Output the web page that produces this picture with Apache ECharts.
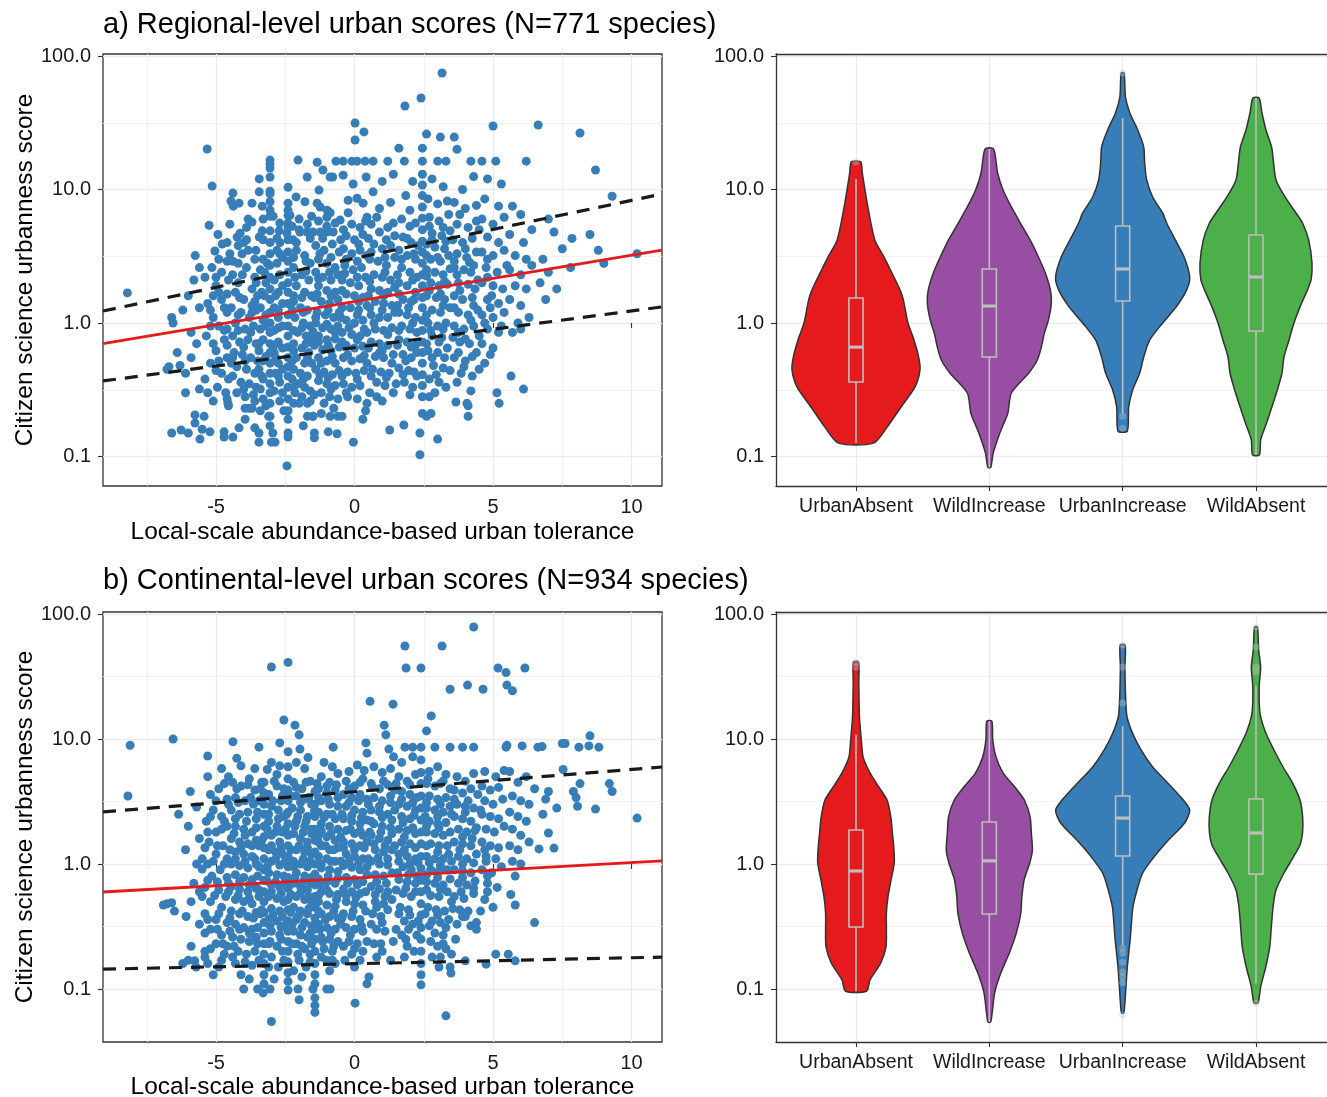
<!DOCTYPE html>
<html><head><meta charset="utf-8">
<script src="https://cdn.jsdelivr.net/npm/echarts@6/dist/echarts.min.js"></script>
<style>html,body{margin:0;padding:0;background:#fff}#c{width:1327px;height:1097px}</style>
</head><body><div id="c"></div>
<script>
// ---------- categories, ticks ----------
const categories = ['UrbanAbsent', 'WildIncrease', 'UrbanIncrease', 'WildAbsent'];
const groupColors = ['#E41A1C', '#984EA3', '#377EB8', '#4DAF4A'];
const yTickValues = [0.1, 1, 10, 100];
const yTickLabels = ['0.1', '1.0', '10.0', '100.0'];
const yMinorValues = [0.3162, 3.162, 31.62];
const xTickValues = [-5, 0, 5, 10];
const xMinorValues = [-7.5, -2.5, 2.5, 7.5];
const titleA = 'a) Regional-level urban scores (N=771 species)';
const titleB = 'b) Continental-level urban scores (N=934 species)';
const xTitle = 'Local-scale abundance-based urban tolerance';
const yTitle = 'Citizen science urbanness score';

// ---------- scatter a: [tolerance, score] flattened pairs ----------
const scatterA = [
-8.2,1.68, -6.77,0.45, -6.6,1.1, -6.55,1.0, -6.7,0.47, -6.6,0.15,
-6.26,0.158, -6.0,0.15, -5.76,0.205, -5.76,0.178, -5.58,0.135, -5.5,0.16, -6.3,0.48, -6.1,0.42, -5.9,0.55, -6.2,1.25, -6.0,1.6, -5.8,2.1, -5.6,2.6, -5.9,0.85, -5.7,0.7, -6.4,0.6, -5.6,1.3, -5.75,3.2, -5.6,0.32, -6.1,0.3,
-5.43,0.2, -5.22,0.153, -4.71,0.153, -4.71,0.14, -5.32,20.1, -5.14,10.6, -5.25,5.4, -4.93,4.6, -5.04,3.46, -4.78,3.9, -5.15,2.6, -5.4,2.2, -5.0,1.9, -4.8,1.5, -5.3,1.4, -5.1,1.1, -4.6,1.2, -4.9,0.95, -5.35,0.8, -4.7,0.75, -5.0,0.62, -4.6,0.55, -5.2,0.5, -4.8,0.42, -5.4,0.38, -4.95,0.33, -4.65,0.3, -5.1,0.26, -4.55,0.24, -5.3,0.3, -4.8,2.4, -4.6,2.9, -4.9,1.7, -4.6,0.9,
-4.39,9.4, -4.46,8.2, -4.17,7.9, -4.38,7.5, -4.24,4.4, -4.13,4.7, -4.39,2.9, -4.06,3.3, -3.84,3.5, -3.56,3.5, -3.7,7.9, -3.44,12.0, -3.44,9.6, -3.84,6.0, -3.7,5.7, -3.44,4.4, -4.57,0.25, -4.39,0.14, -4.17,0.164, -3.95,0.23, -3.8,0.23, -3.7,0.23, -3.95,0.19, -3.6,0.164, -3.45,0.15, -3.45,0.128, -4.4,2.3, -4.2,2.0, -3.9,2.6, -3.6,2.2, -4.3,1.7, -4.0,1.5, -3.7,1.8, -3.5,1.6, -4.45,1.3, -4.1,1.2, -3.8,1.1, -3.55,1.25, -4.3,1.0, -3.95,0.9, -3.65,0.95, -4.4,0.8, -4.15,0.72, -3.85,0.75, -3.55,0.7, -4.35,0.6, -4.05,0.58, -3.75,0.55, -3.5,0.52, -4.25,0.47, -3.9,0.45, -3.6,0.42, -4.4,0.4, -4.1,0.36, -3.8,0.35, -3.55,0.33, -4.25,0.3, -3.95,0.28, -3.65,0.29, -4.45,0.5, -3.7,1.35, -4.2,3.8, -3.9,4.2,
-3.05,16.6, -3.05,15.5, -3.05,14.5, -3.05,12.4, -3.05,9.7, -3.05,9.3, -3.05,8.1, -3.05,7.0, -3.05,6.3, -3.05,4.9, -3.05,4.0, -3.05,3.3, -3.05,2.7, -3.05,2.2, -3.05,1.8, -3.05,1.5, -3.05,1.2, -3.05,1.0, -3.05,0.85, -3.05,0.7, -3.05,0.6, -3.05,0.5, -3.05,0.42, -3.05,0.35, -3.05,0.3, -3.05,0.25, -3.05,0.2, -3.05,0.17,
-3.33,7.5, -3.33,4.9, -2.94,6.3, -2.72,4.9, -2.69,4.0, -3.2,0.24, -3.1,0.2, -2.95,0.15, -3.0,0.128, -2.87,0.128, -3.3,3.0, -3.4,2.5, -3.2,2.0, -2.8,2.8, -2.7,2.3, -2.6,1.9, -3.35,1.7, -2.85,1.6, -3.4,1.3, -2.9,1.3, -2.6,1.4, -3.3,1.05, -2.75,1.1, -3.4,0.9, -2.9,0.88, -2.6,0.95, -3.3,0.75, -2.75,0.72, -3.45,0.62, -2.9,0.6, -2.6,0.65, -3.3,0.52, -2.75,0.5, -3.45,0.45, -2.85,0.42, -2.6,0.45, -3.3,0.38, -2.7,0.36, -3.4,0.32, -2.9,0.31, -2.6,0.3, -3.3,0.27, -2.7,0.26, -2.55,0.22, -3.4,0.22, -2.8,3.5, -2.6,3.1,
-2.4,10.4, -2.4,7.9, -2.4,7.0, -2.4,6.4, -2.4,5.6, -2.4,5.2, -2.4,4.2, -2.4,3.4, -2.4,2.9, -2.4,2.4, -2.4,2.0, -2.4,1.7, -2.4,1.4, -2.4,1.15, -2.4,0.95, -2.4,0.8, -2.4,0.66, -2.4,0.55, -2.4,0.47, -2.4,0.4, -2.4,0.33, -2.4,0.27, -2.4,0.22, -2.4,0.19, -2.4,0.15, -2.4,0.14, -2.44,0.085,
-2.33,6.4, -2.44,4.7, -2.22,4.2, -2.04,16.6, -2.11,8.8, -1.79,8.1, -1.71,12.4, -1.97,4.8, -1.71,4.8, -1.5,4.8, -2.2,0.25, -2.0,0.25, -1.7,0.25, -1.85,0.17, -1.7,0.2, -1.5,0.2, -2.1,3.5, -1.8,3.2, -1.6,2.8, -2.2,2.6, -1.9,2.3, -1.65,2.1, -2.1,1.9, -1.8,1.7, -1.55,1.6, -2.2,1.45, -1.95,1.3, -1.7,1.25, -2.15,1.1, -1.85,1.0, -1.6,0.95, -2.05,0.85, -1.75,0.8, -1.55,0.75, -2.2,0.7, -1.9,0.65, -1.65,0.6, -2.1,0.55, -1.8,0.5, -1.55,0.5, -2.2,0.45, -1.95,0.42, -1.7,0.4, -2.05,0.35, -1.8,0.33, -1.6,0.31, -2.15,0.3, -1.9,0.28, -1.6,0.26, -2.0,6.0, -1.7,5.5, -2.25,5.3,
-1.35,16.0, -1.14,14.0, -1.28,9.9, -1.35,7.9, -1.24,7.4, -0.99,7.0, -0.88,12.4, -0.79,12.4, -0.67,16.3, -1.24,4.8, -0.99,4.8, -0.77,4.8, -1.5,0.2, -1.2,0.21, -1.45,0.15, -1.45,0.138, -0.95,0.153, -0.63,0.148, -0.88,0.2, -0.6,0.2, -1.4,3.8, -1.1,3.5, -0.8,3.9, -0.55,3.4, -1.3,3.0, -1.0,2.8, -0.7,2.6, -1.4,2.4, -1.15,2.2, -0.85,2.1, -0.6,2.3, -1.3,1.9, -1.0,1.75, -0.7,1.7, -1.45,1.55, -1.2,1.45, -0.9,1.4, -0.6,1.5, -1.35,1.2, -1.05,1.15, -0.75,1.1, -0.55,1.2, -1.4,1.0, -1.15,0.92, -0.85,0.9, -0.6,0.95, -1.3,0.8, -1.0,0.75, -0.7,0.76, -1.45,0.68, -1.15,0.63, -0.85,0.62, -0.55,0.66, -1.3,0.55, -1.0,0.52, -0.7,0.5, -1.4,0.45, -1.1,0.43, -0.8,0.41, -0.55,0.44, -1.3,0.37, -1.0,0.35, -0.7,0.34, -1.2,0.3, -0.9,0.28, -0.6,0.27, -1.1,0.25, -0.75,0.23, -1.3,5.8, -1.0,6.2, -0.7,5.6, -0.88,6.7,
-0.41,16.3, -0.09,16.3, 0.09,16.3, 0.38,16.3, -0.41,12.8, 0.02,31.5, 0.02,23.5, 0.34,27, 0.42,12.4, -0.52,5.9, -0.23,6.7, -0.23,8.3, 0.09,8.6, 0.31,7.9, 0.45,6.2, -0.45,0.2, 0.3,0.19, 0.4,0.22, 0.45,0.25, -0.04,0.128, -0.3,4.5, 0.0,4.2, 0.3,4.6, -0.4,3.6, -0.1,3.3, 0.2,3.5, 0.45,3.2, -0.35,2.7, -0.05,2.5, 0.25,2.6, -0.45,2.1, -0.15,2.0, 0.15,1.9, 0.4,2.2, -0.3,1.65, 0.0,1.6, 0.3,1.55, -0.45,1.3, -0.15,1.3, 0.15,1.25, 0.45,1.35, -0.3,1.05, 0.0,1.0, 0.3,1.05, -0.45,0.85, -0.1,0.82, 0.2,0.8, 0.45,0.85, -0.3,0.68, 0.0,0.65, 0.3,0.67, -0.4,0.55, -0.1,0.52, 0.2,0.54, 0.45,0.5, -0.25,0.43, 0.05,0.42, 0.35,0.44, -0.4,0.35, -0.1,0.33, 0.2,0.34, -0.25,0.28, 0.1,0.27, -0.1,5.5, 0.2,5.2, -0.05,11.0,
0.67,16.3, 1.2,16.3, 0.67,9.6, 0.6,5.5, 0.9,4.8, 1.2,5.2, 1.45,4.5, 0.7,3.9, 1.0,3.6, 1.3,3.8, 0.55,3.0, 0.85,2.9, 1.15,2.7, 1.45,3.1, 0.7,2.3, 1.0,2.2, 1.3,2.1, 0.6,1.8, 0.9,1.75, 1.2,1.7, 1.45,1.85, 0.75,1.45, 1.05,1.4, 1.35,1.35, 0.6,1.15, 0.9,1.1, 1.2,1.1, 1.45,1.2, 0.75,0.9, 1.05,0.88, 1.35,0.92, 0.6,0.72, 0.9,0.7, 1.2,0.68, 0.75,0.56, 1.05,0.55, 1.4,0.58, 0.65,0.45, 0.95,0.43, 1.25,0.42, 0.8,0.36, 1.1,0.34, 1.27,0.158, 0.8,0.28, 1.4,0.3, 0.9,7.2, 1.3,8.0, 1.0,11.5, 1.4,13.0,
2.45,20.4, 2.45,16.3, 2.45,13.0, 2.45,10.8, 2.45,9.0, 2.45,7.4, 2.45,6.1, 2.45,5.0, 2.45,4.1, 2.45,3.4, 2.45,2.8, 2.45,2.3, 2.45,1.9, 2.45,1.55, 2.45,1.3, 2.45,1.05, 2.45,0.88, 2.45,0.72, 2.45,0.6, 2.45,0.5, 2.45,0.41, 2.45,0.34, 2.45,0.28, 2.45,0.21, 2.36,0.15, 2.36,0.103,
1.82,42.2, 2.4,48.5, 1.8,16.3, 1.78,0.172, 1.6,20.4, 1.75,4.4, 2.05,4.0, 1.6,3.5, 1.9,3.2, 2.2,3.0, 1.7,2.6, 2.0,2.4, 2.25,2.2, 1.6,2.0, 1.9,1.9, 2.2,1.7, 1.75,1.5, 2.05,1.45, 1.6,1.2, 1.9,1.15, 2.2,1.1, 1.7,0.95, 2.0,0.9, 2.25,0.85, 1.6,0.75, 1.9,0.72, 2.2,0.68, 1.75,0.58, 2.05,0.55, 1.6,0.46, 1.95,0.44, 2.25,0.4, 1.8,0.36, 2.1,0.33, 1.7,6.0, 2.0,7.0, 2.2,5.6, 1.85,9.0, 2.1,11.5,
3.16,74.6, 2.6,26.0, 3.1,24.7, 2.6,0.2, 2.76,0.21, 3.0,0.135, 3.0,16.3, 3.3,16.3, 2.8,12.0, 3.2,10.5, 2.65,8.5, 3.0,7.8, 3.35,8.2, 2.7,6.2, 3.05,5.8, 3.4,6.5, 2.8,4.7, 3.15,4.5, 3.45,4.9, 2.6,3.9, 2.9,3.7, 3.25,3.6, 2.75,3.0, 3.1,2.9, 3.4,3.2, 2.6,2.5, 2.9,2.4, 3.2,2.3, 3.45,2.55, 2.75,2.0, 3.05,1.9, 3.35,1.95, 2.6,1.6, 2.95,1.55, 3.25,1.5, 2.8,1.25, 3.1,1.2, 3.45,1.3, 2.65,1.0, 3.0,0.95, 3.3,1.0, 2.8,0.8, 3.15,0.78, 2.65,0.62, 3.0,0.6, 3.35,0.65, 2.85,0.48, 3.2,0.46, 2.7,0.38, 3.05,0.36, 2.9,0.3,
3.6,24.7, 3.66,0.256, 4.1,0.24, 4.1,0.2, 4.06,0.25, 4.2,16.3, 3.7,20.0, 4.3,12.5, 3.9,10.0, 3.6,8.0, 4.0,7.2, 4.4,7.6, 3.7,5.5, 4.1,5.2, 4.4,5.8, 3.55,4.2, 3.9,4.0, 4.25,4.3, 3.7,3.3, 4.05,3.1, 4.4,3.4, 3.6,2.6, 3.95,2.5, 4.3,2.7, 3.75,2.0, 4.1,1.95, 4.45,2.1, 3.6,1.6, 3.9,1.5, 4.25,1.55, 3.75,1.2, 4.1,1.15, 4.45,1.25, 3.6,0.95, 3.95,0.9, 4.3,0.95, 3.8,0.72, 4.15,0.7, 3.6,0.55, 4.0,0.52, 4.4,0.6, 3.85,0.42, 4.25,0.4,
5.0,29.9, 5.14,0.3, 5.22,0.25, 4.6,16.3, 5.1,16.3, 4.8,12.0, 5.3,11.0, 4.7,8.5, 5.2,7.5, 4.6,6.0, 5.0,5.5, 5.4,6.2, 4.8,4.4, 5.2,4.0, 4.6,3.4, 5.0,3.2, 5.4,3.5, 4.75,2.6, 5.15,2.4, 5.5,2.7, 4.6,2.0, 5.0,1.9, 5.35,1.8, 4.8,1.5, 5.2,1.4, 4.6,1.15, 5.0,1.1, 5.4,1.2, 4.8,0.9, 5.2,0.85, 4.6,0.7, 5.0,0.65, 4.7,0.5, 5.3,0.95,
5.65,0.4, 6.2,16.3, 5.7,7.5, 6.0,6.5, 5.6,4.6, 6.1,4.0, 6.4,5.0, 5.8,3.2, 6.2,3.0, 5.6,2.5, 6.0,2.3, 6.4,2.7, 5.8,1.9, 6.2,1.8, 5.6,1.5, 6.0,1.35, 5.9,1.0, 6.3,1.1, 5.7,0.85, 6.0,0.9, 6.1,0.32,
6.63,30.4, 8.14,26.5, 8.7,14.0, 9.3,8.9, 10.2,3.3, 7.85,4.3, 7.2,4.8, 7.5,3.6, 6.8,3.0, 7.0,2.4, 6.7,2.0, 8.5,4.6, 9.0,2.8, 7.8,2.6, 7.3,1.8, 6.9,1.5, 7.0,6.0, 8.8,3.5
];
// more of the dense core of panel a
const scatterA_core = [
-4.6,0.27, -4.0,0.32, -3.6,0.26, -2.2,0.33, -1.45,0.29, -0.85,0.32, -0.3,0.3, 0.55,0.3, 1.0,0.26, 1.5,0.35, 2.0,0.29, 2.7,0.28, 3.3,0.33, 3.7,0.36, 4.2,0.31,
-5.0,0.44, -4.55,0.38, -3.35,0.4, -2.75,0.4, -2.25,0.38, -1.85,0.38, -1.25,0.41, -0.95,0.39, -0.45,0.4, 0.1,0.38, 0.6,0.4, 1.15,0.39, 1.75,0.41, 2.15,0.43, 2.95,0.41, 3.45,0.44, 3.95,0.47, 4.5,0.45,
-4.9,0.52, -4.4,0.55, -3.95,0.52, -3.2,0.56, -2.85,0.55, -2.25,0.52, -1.7,0.55, -1.2,0.5, -0.8,0.56, -0.25,0.58, 0.35,0.57, 0.9,0.6, 1.35,0.5, 1.85,0.52, 2.25,0.6, 2.8,0.55, 3.25,0.55, 3.75,0.6, 4.25,0.56, 4.9,0.58,
-5.1,0.7, -4.6,0.68, -4.0,0.66, -3.45,0.7, -2.9,0.68, -2.2,0.62, -1.75,0.7, -1.3,0.72, -0.95,0.68, -0.45,0.72, 0.1,0.75, 0.5,0.65, 1.0,0.62, 1.55,0.68, 2.05,0.66, 2.6,0.7, 3.05,0.72, 3.55,0.78, 4.0,0.76, 4.5,0.8,
-5.2,0.95, -4.7,0.88, -4.2,0.88, -3.75,0.85, -3.2,0.95, -2.75,0.92, -2.2,0.88, -1.9,0.92, -1.5,0.86, -1.0,0.98, -0.7,0.85, -0.2,0.92, 0.35,0.9, 0.7,1.0, 1.2,0.82, 1.6,0.88, 2.1,1.0, 2.75,0.88, 3.2,0.9, 3.75,0.85, 4.2,1.05, 4.7,1.0,
-5.2,1.25, -4.7,1.3, -4.2,1.15, -3.7,1.2, -3.2,1.15, -2.75,1.25, -2.25,1.25, -1.85,1.2, -1.4,1.1, -0.95,1.25, -0.5,1.1, 0.1,1.15, 0.55,1.3, 1.0,1.25, 1.55,1.35, 1.95,1.3, 2.6,1.15, 3.2,1.35, 3.6,1.3, 4.3,1.35, 4.9,1.3,
-5.1,1.6, -4.6,1.65, -4.15,1.55, -3.6,1.45, -3.25,1.6, -2.75,1.7, -2.2,1.6, -1.9,1.55, -1.35,1.65, -0.85,1.6, -0.45,1.75, 0.15,1.45, 0.5,1.6, 1.05,1.6, 1.6,1.65, 2.15,1.5, 2.7,1.75, 3.1,1.65, 3.8,1.75, 4.35,1.8, 4.95,1.6,
-5.0,2.2, -4.55,2.1, -4.05,2.3, -3.55,2.0, -3.25,2.4, -2.9,2.1, -2.15,2.2, -1.75,2.45, -1.3,2.15, -0.9,2.4, -0.35,2.35, 0.1,2.2, 0.55,2.05, 1.1,2.4, 1.55,2.3, 2.1,2.1, 2.6,2.25, 3.25,2.05, 3.7,2.3, 4.2,2.4, 4.8,2.2,
-4.9,3.0, -4.5,3.3, -4.2,2.8, -3.6,3.0, -3.15,2.8, -2.7,3.3, -2.2,3.1, -1.75,2.9, -1.25,3.3, -0.85,3.1, -0.3,3.0, 0.1,2.9, 0.6,3.4, 1.1,3.1, 1.7,3.0, 2.15,3.3, 2.6,3.2, 3.0,3.1, 3.6,2.9, 4.15,2.85, 4.8,3.0,
-4.6,4.0, -4.0,4.0, -3.3,4.2, -2.8,4.3, -2.1,4.0, -1.6,4.3, -1.15,4.3, -0.5,4.2, 0.15,3.9, 0.5,4.3, 1.15,4.2, 1.9,4.3, 2.3,3.8, 2.8,4.2, 3.3,4.1, 4.0,3.6,
-4.5,5.5, -3.9,5.2, -3.3,6.0, -2.7,5.6, -2.0,5.0, -1.55,6.3, -1.0,5.3, -0.4,5.0, 0.4,5.8, 0.8,6.2, 1.4,5.6, 2.0,5.3, 2.7,5.3, 3.2,5.2, 3.8,6.5, 4.5,5.0
];

// ---------- scatter b ----------
const scatterB = [
-8.1,8.9, -8.18,3.5, -6.55,10.0, -6.77,0.48, -6.6,0.49, -6.5,0.42, -6.9,0.47,
-6.08,0.38, -5.7,1.0, -5.5,0.91, -6.35,2.5, -5.93,3.8, -5.7,2.86, -6.0,0.17, -5.77,0.168, -5.72,0.15, -5.9,0.22, -6.2,0.16, -5.6,0.6, -5.8,0.7, -6.1,1.3, -5.6,1.6, -5.9,0.5, -5.6,0.33, -6.0,2.0,
-5.3,7.3, -5.3,5.0, -5.4,0.2, -5.4,0.18, -5.2,3.6, -4.9,4.0, -4.6,3.3, -5.1,2.7, -4.8,2.4, -5.35,2.2, -4.6,2.0, -5.0,1.8, -5.25,1.5, -4.75,1.4, -5.0,1.2, -4.6,1.1, -5.3,1.0, -4.85,0.9, -5.15,0.8, -4.6,0.78, -5.4,0.65, -4.9,0.62, -4.65,0.55, -5.2,0.5, -4.8,0.45, -5.4,0.4, -5.0,0.36, -4.6,0.34, -5.2,0.3, -4.8,0.27, -5.0,0.23, -4.6,0.22, -5.3,0.16, -4.9,0.15, -4.7,0.19, -5.1,0.13, -4.55,5.0, -4.8,5.8,
-4.39,9.5, -4.25,7.0, -4.1,6.1, -4.0,0.1, -3.5,0.1, -4.4,4.5, -4.1,4.2, -3.8,4.8, -3.6,3.9, -4.3,3.4, -3.95,3.2, -3.65,3.0, -4.45,2.7, -4.15,2.5, -3.85,2.6, -3.55,2.3, -4.3,2.0, -4.0,1.9, -3.7,1.8, -4.45,1.6, -4.15,1.5, -3.85,1.45, -3.55,1.55, -4.3,1.25, -4.0,1.2, -3.7,1.15, -4.45,1.0, -4.15,0.97, -3.85,0.93, -3.55,1.0, -4.3,0.82, -4.0,0.78, -3.7,0.75, -4.45,0.66, -4.15,0.63, -3.85,0.6, -3.55,0.64, -4.3,0.52, -4.0,0.5, -3.7,0.48, -4.45,0.42, -4.15,0.4, -3.85,0.38, -3.55,0.41, -4.3,0.33, -4.0,0.31, -3.7,0.3, -4.4,0.26, -4.1,0.25, -3.8,0.24, -3.55,0.26, -4.2,0.2, -3.9,0.19, -3.6,0.2, -4.3,0.16, -3.7,0.155, -4.1,0.13, -3.8,0.12, -3.6,5.8,
-3.45,8.6, -2.7,9.3, -3.15,5.7, -2.7,6.1, -3.0,37.7, -3.3,0.093, -3.05,0.1, -3.0,0.055,
-3.27,4.5, -3.27,3.7, -3.27,3.0, -3.27,2.5, -3.27,2.0, -3.27,1.65, -3.27,1.35, -3.27,1.1, -3.27,0.9, -3.27,0.74, -3.27,0.6, -3.27,0.5, -3.27,0.41, -3.27,0.34, -3.27,0.28, -3.27,0.23, -3.27,0.19, -3.27,0.16, -3.27,0.13, -3.27,0.11,
-3.4,4.0, -3.1,3.6, -2.8,4.2, -2.6,3.5, -3.45,3.2, -3.0,2.9, -2.75,2.7, -2.55,2.4, -3.1,2.2, -2.8,2.0, -2.6,1.8, -3.0,1.7, -2.7,1.5, -3.45,1.4, -3.1,1.3, -2.85,1.25, -2.6,1.2, -3.0,1.05, -2.7,0.98, -3.45,0.95, -3.1,0.85, -2.8,0.82, -2.55,0.8, -3.0,0.68, -2.7,0.65, -3.45,0.62, -3.1,0.55, -2.8,0.53, -2.55,0.5, -3.0,0.44, -2.7,0.42, -3.4,0.4, -3.1,0.36, -2.8,0.35, -2.55,0.32, -3.0,0.29, -2.7,0.27, -3.1,0.23, -2.8,0.22, -2.6,0.2, -3.0,0.18, -2.75,0.15, -2.9,0.12, -3.0,6.5, -2.8,5.2,
-2.4,41.0, -2.55,14.2, -2.15,12.9, -2.0,10.8, -2.4,7.9, -1.97,8.3, -1.68,7.1, -2.4,0.098, -2.0,0.082, -2.04,0.1, -1.5,0.1,
-2.4,6.0, -2.4,4.8, -2.4,3.9, -2.4,3.2, -2.4,2.6, -2.4,2.1, -2.4,1.7, -2.4,1.4, -2.4,1.15, -2.4,0.95, -2.4,0.78, -2.4,0.64, -2.4,0.52, -2.4,0.43, -2.4,0.35, -2.4,0.29, -2.4,0.24, -2.4,0.2, -2.4,0.165, -2.4,0.135, -2.4,0.115,
-2.2,4.5, -1.9,4.0, -1.6,4.6, -2.1,3.5, -1.8,3.3, -1.55,3.0, -2.25,2.8, -1.95,2.7, -1.7,2.4, -2.1,2.2, -1.8,2.0, -1.55,1.9, -2.2,1.75, -1.95,1.6, -1.7,1.5, -2.1,1.3, -1.8,1.25, -1.55,1.2, -2.2,1.05, -1.95,1.0, -1.7,0.95, -2.1,0.85, -1.8,0.8, -1.55,0.78, -2.2,0.7, -1.95,0.66, -1.7,0.62, -2.1,0.55, -1.8,0.52, -1.55,0.5, -2.2,0.45, -1.95,0.42, -1.7,0.4, -2.1,0.36, -1.8,0.34, -1.55,0.32, -2.2,0.29, -1.95,0.27, -1.7,0.26, -2.1,0.23, -1.8,0.21, -1.6,0.19, -2.0,0.17, -1.75,0.15, -2.2,0.14, -1.9,0.125, -1.8,5.8, -2.1,6.5,
-0.77,8.6, -1.0,0.1, -0.88,0.1,
-1.43,0.065, -1.43,0.074, -1.43,0.085, -1.43,0.11, -1.43,0.13, -1.43,0.16, -1.43,0.2, -1.43,0.25, -1.43,0.3, -1.43,0.37, -1.43,0.45, -1.43,0.55, -1.43,0.68, -1.43,0.83, -1.43,1.0, -1.43,1.25, -1.43,1.55, -1.43,1.9, -1.43,2.4, -1.43,3.0, -1.43,3.8,
-1.2,5.0, -0.9,4.5, -0.6,5.3, -1.3,4.0, -1.0,3.7, -0.7,3.9, -1.2,3.2, -0.9,3.0, -0.6,2.9, -1.3,2.6, -1.0,2.5, -0.7,2.3, -1.2,2.1, -0.9,2.0, -0.6,1.9, -1.3,1.7, -1.0,1.65, -0.7,1.55, -1.2,1.4, -0.9,1.3, -0.6,1.35, -1.3,1.15, -1.0,1.1, -0.7,1.05, -1.2,0.93, -0.9,0.9, -0.6,0.87, -1.3,0.76, -1.0,0.72, -0.7,0.7, -1.2,0.6, -0.9,0.58, -0.6,0.57, -1.3,0.5, -1.0,0.47, -0.7,0.46, -1.2,0.4, -0.9,0.38, -0.6,0.37, -1.3,0.33, -1.0,0.31, -0.7,0.3, -1.2,0.26, -0.9,0.25, -0.6,0.24, -1.1,0.21, -0.8,0.2, -1.0,0.17, -0.7,0.16, -0.9,0.14, -1.1,6.5, -0.8,6.0,
0.41,9.3, 0.45,7.7, 0.02,0.077, 0.45,0.11, 0.52,0.125, -0.3,4.6, 0.0,4.2, 0.3,4.8, -0.4,3.6, -0.1,3.4, 0.2,3.6, 0.45,3.3, -0.3,2.9, 0.0,2.7, 0.3,2.6, -0.4,2.3, -0.1,2.2, 0.2,2.1, 0.45,2.25, -0.3,1.85, 0.0,1.75, 0.3,1.7, -0.4,1.5, -0.1,1.45, 0.2,1.4, 0.45,1.5, -0.3,1.2, 0.0,1.15, 0.3,1.1, -0.4,0.97, -0.1,0.94, 0.2,0.9, 0.45,0.95, -0.3,0.78, 0.0,0.75, 0.3,0.72, -0.4,0.63, -0.1,0.6, 0.2,0.58, -0.3,0.5, 0.0,0.48, 0.3,0.47, -0.4,0.4, -0.1,0.38, 0.2,0.36, -0.3,0.31, 0.0,0.3, 0.3,0.29, -0.2,0.24, 0.1,0.23, -0.1,0.19, 0.2,0.17, 0.0,0.15, -0.2,5.5, 0.1,6.2, 0.35,5.6,
0.56,20.0, 1.39,19.0, 1.07,12.9, 1.13,10.8, 1.24,8.3, 1.41,7.2, 0.7,6.0, 1.0,5.4, 1.3,5.8, 0.6,4.4, 0.9,4.0, 1.2,4.3, 1.45,3.9, 0.7,3.4, 1.0,3.2, 1.3,3.1, 0.6,2.7, 0.9,2.6, 1.2,2.5, 1.45,2.7, 0.7,2.1, 1.0,2.0, 1.3,1.95, 0.6,1.7, 0.9,1.6, 1.2,1.55, 0.75,1.3, 1.05,1.25, 1.35,1.3, 0.6,1.05, 0.9,1.0, 1.2,0.98, 0.75,0.82, 1.05,0.8, 1.35,0.85, 0.6,0.66, 0.9,0.63, 1.2,0.6, 0.75,0.5, 1.05,0.48, 1.35,0.52, 0.65,0.4, 0.95,0.38, 0.8,0.3, 1.1,0.29, 0.7,0.23, 1.0,0.2,
1.82,55.5, 1.86,37.0, 2.4,37.0, 1.82,8.6, 2.1,8.6, 2.4,8.6, 2.4,0.108,
2.4,6.8, 2.4,5.4, 2.4,4.4, 2.4,3.5, 2.4,2.8, 2.4,2.25, 2.4,1.8, 2.4,1.45, 2.4,1.15, 2.4,0.92, 2.4,0.74, 2.4,0.6, 2.4,0.48, 2.4,0.39, 2.4,0.31, 2.4,0.25, 2.4,0.2, 2.4,0.16, 2.4,0.13,
1.6,5.0, 1.9,4.6, 2.2,5.2, 1.7,3.8, 2.0,3.6, 2.25,3.4, 1.6,3.0, 1.9,2.9, 2.2,2.7, 1.7,2.4, 2.0,2.3, 1.6,1.9, 1.9,1.85, 2.2,1.75, 1.7,1.5, 2.0,1.45, 1.6,1.2, 1.9,1.15, 2.2,1.1, 1.75,0.95, 2.05,0.9, 1.6,0.75, 1.9,0.72, 2.2,0.7, 1.75,0.58, 2.05,0.55, 1.65,0.45, 1.95,0.43, 1.8,0.35, 2.1,0.33, 1.7,0.27, 1.9,0.22, 1.7,6.5, 2.1,7.2, 2.6,11.6, 2.77,15.3,
3.16,55.5, 3.45,25.0, 2.9,8.6, 3.45,8.6, 3.3,0.061, 3.05,0.15, 3.48,0.134, 3.45,0.15, 2.7,5.5, 3.0,6.0, 3.3,5.2, 2.6,4.4, 2.9,4.2, 3.2,4.6, 3.45,4.0, 2.7,3.5, 3.0,3.3, 3.3,3.4, 2.6,2.8, 2.9,2.7, 3.2,2.6, 3.45,2.9, 2.7,2.2, 3.0,2.1, 3.3,2.15, 2.6,1.8, 2.9,1.75, 3.2,1.7, 2.75,1.45, 3.05,1.4, 3.35,1.4, 2.6,1.15, 2.9,1.1, 3.2,1.1, 2.75,0.9, 3.05,0.88, 3.35,0.9, 2.6,0.72, 2.9,0.7, 3.2,0.68, 2.75,0.56, 3.05,0.55, 3.35,0.6, 2.65,0.45, 2.95,0.43, 3.25,0.42, 2.8,0.35, 3.1,0.34, 3.4,0.36, 2.9,0.28, 3.2,0.27, 3.0,0.22, 3.3,0.21, 3.1,0.18,
3.9,8.6, 4.3,8.6, 4.08,27.0, 4.3,78.7, 4.0,0.168, 4.2,0.32, 4.4,0.3, 3.7,5.0, 4.0,4.6, 4.3,5.3, 3.6,3.9, 3.9,3.7, 4.2,4.0, 4.45,3.6, 3.7,3.0, 4.0,2.9, 4.3,2.8, 3.6,2.4, 3.9,2.3, 4.2,2.2, 3.75,1.9, 4.05,1.8, 4.35,1.85, 3.6,1.5, 3.9,1.45, 4.2,1.4, 3.75,1.15, 4.05,1.1, 4.4,1.2, 3.6,0.9, 3.9,0.88, 4.2,0.85, 3.75,0.7, 4.05,0.68, 3.6,0.55, 3.95,0.53, 4.3,0.58, 3.8,0.43, 4.1,0.42, 3.7,0.33, 4.64,25.0,
4.75,0.158, 5.1,0.19, 5.55,0.19, 5.18,37.0, 5.47,34.0, 5.5,27.0, 5.5,8.9, 5.47,8.6, 4.7,5.5, 5.1,5.0, 5.4,5.6, 4.6,4.2, 4.9,3.9, 5.2,4.1, 4.7,3.2, 5.0,3.0, 5.35,3.3, 4.6,2.5, 4.9,2.4, 5.2,2.3, 4.75,1.9, 5.05,1.8, 5.4,2.0, 4.6,1.5, 4.9,1.4, 5.2,1.35, 4.75,1.15, 5.1,1.1, 4.6,0.9, 4.95,0.85, 5.3,0.95, 4.8,0.7, 5.15,0.65, 4.7,0.52, 5.0,0.45,
5.7,24.3, 5.64,0.57, 5.8,0.47, 5.8,0.168, 6.05,8.8, 6.15,37.0, 6.5,0.34, 6.5,4.0, 5.6,5.5, 5.9,4.5, 6.2,5.0, 5.7,3.5, 6.0,3.2, 6.3,3.0, 5.6,2.6, 5.9,2.4, 6.2,2.2, 5.7,1.9, 6.0,1.7, 5.6,1.4, 5.9,1.3, 6.3,1.5, 5.7,1.05, 6.0,1.0, 5.8,0.8,
6.62,8.6, 6.77,8.7, 7.5,9.2, 7.6,9.2, 8.1,8.6, 8.46,8.8, 8.82,8.6, 8.5,10.6, 7.53,5.7, 8.14,4.4, 9.2,4.4, 9.3,3.8, 7.9,3.8, 8.0,3.4, 8.05,2.9, 8.7,2.75, 10.2,2.33, 7.0,3.8, 7.0,1.77, 7.2,1.34, 6.66,1.32, 6.8,2.5, 7.3,2.8, 6.9,3.3
];
// more of the dense core of panel b
const scatterB_core = [
-4.8,0.17, -4.4,0.18, -3.95,0.165, -3.45,0.17, -3.1,0.15, -2.55,0.17, -2.05,0.19, -1.6,0.165, -1.2,0.18, -0.8,0.17, -0.35,0.17, 0.3,0.2, 0.8,0.18, 1.3,0.17, 1.8,0.18, 2.15,0.2, 2.8,0.18, 3.5,0.19,
-5.2,0.21, -4.75,0.23, -4.35,0.22, -3.5,0.23, -3.05,0.24, -2.65,0.25, -2.25,0.23, -1.9,0.22, -1.55,0.23, -1.15,0.24, -0.75,0.22, -0.4,0.22, 0.0,0.21, 0.45,0.24, 0.95,0.23, 1.4,0.24, 1.85,0.25, 2.25,0.27, 2.75,0.24, 3.2,0.23, 3.65,0.25,
-5.4,0.28, -4.95,0.3, -4.5,0.29, -4.15,0.3, -3.8,0.28, -3.5,0.31, -3.05,0.32, -2.65,0.31, -2.25,0.33, -1.9,0.31, -1.6,0.28, -1.25,0.3, -0.85,0.28, -0.5,0.33, -0.15,0.27, 0.25,0.32, 0.6,0.33, 1.0,0.34, 1.5,0.3, 1.95,0.3, 2.3,0.35, 2.7,0.32, 3.3,0.31, 3.9,0.38, 4.4,0.34,
-5.3,0.36, -4.9,0.4, -4.5,0.37, -4.05,0.42, -3.65,0.37, -3.35,0.43, -2.95,0.39, -2.6,0.38, -2.3,0.41, -2.0,0.39, -1.65,0.44, -1.3,0.42, -1.05,0.36, -0.75,0.42, -0.45,0.37, -0.05,0.42, 0.4,0.42, 0.8,0.45, 1.2,0.43, 1.6,0.4, 2.0,0.39, 2.55,0.4, 3.0,0.39, 3.55,0.44, 4.0,0.38, 4.55,0.42,
-5.5,0.55, -5.05,0.56, -4.55,0.6, -4.2,0.56, -3.8,0.53, -3.45,0.55, -3.0,0.6, -2.65,0.58, -2.3,0.57, -1.95,0.59, -1.65,0.55, -1.3,0.56, -1.0,0.62, -0.65,0.52, -0.3,0.56, 0.05,0.54, 0.4,0.6, 0.75,0.57, 1.1,0.55, 1.5,0.62, 1.85,0.64, 2.2,0.6, 2.6,0.62, 3.1,0.63, 3.5,0.5, 3.85,0.6, 4.3,0.64, 4.8,0.6,
-5.3,0.74, -4.95,0.72, -4.55,0.7, -4.15,0.72, -3.8,0.68, -3.5,0.8, -3.15,0.73, -2.85,0.72, -2.5,0.72, -2.15,0.77, -1.85,0.72, -1.6,0.7, -1.25,0.68, -0.95,0.8, -0.6,0.77, -0.25,0.7, 0.1,0.68, 0.45,0.82, 0.8,0.72, 1.15,0.7, 1.55,0.85, 1.95,0.82, 2.25,0.8, 2.6,0.82, 3.0,0.78, 3.45,0.76, 3.9,0.78, 4.35,0.73, 4.8,0.8,
-5.5,1.1, -5.1,1.05, -4.7,1.0, -4.3,1.1, -3.95,1.05, -3.6,1.1, -3.15,0.95, -2.85,1.1, -2.5,1.05, -2.2,0.95, -1.85,1.1, -1.6,1.05, -1.2,1.0, -0.85,1.05, -0.5,1.05, -0.2,1.05, 0.15,1.02, 0.5,1.1, 0.85,1.12, 1.2,1.1, 1.6,1.05, 2.0,1.0, 2.3,1.02, 2.7,1.02, 3.1,0.98, 3.5,1.05, 3.9,1.0, 4.3,1.02, 4.75,1.05,
-5.4,1.35, -4.95,1.4, -4.5,1.3, -4.1,1.35, -3.7,1.4, -3.35,1.55, -3.0,1.4, -2.65,1.35, -2.3,1.3, -2.0,1.4, -1.7,1.35, -1.3,1.5, -1.05,1.4, -0.75,1.3, -0.4,1.35, 0.0,1.3, 0.35,1.35, 0.7,1.45, 1.1,1.4, 1.45,1.4, 1.8,1.3, 2.2,1.35, 2.6,1.4, 3.0,1.25, 3.4,1.2, 3.8,1.3, 4.25,1.6, 4.7,1.3,
-5.3,1.8, -4.8,1.9, -4.35,1.75, -3.95,1.7, -3.55,1.95, -3.15,1.9, -2.85,1.8, -2.5,1.9, -2.15,2.0, -1.85,1.8, -1.55,1.75, -1.2,1.85, -0.85,1.75, -0.5,1.65, -0.15,1.9, 0.2,1.85, 0.55,1.8, 0.95,1.8, 1.35,1.75, 1.8,1.65, 2.1,1.95, 2.6,2.0, 3.05,1.95, 3.45,1.8, 3.9,1.65, 4.4,1.95,
-5.2,2.4, -4.7,2.2, -4.3,2.3, -3.9,2.2, -3.5,2.6, -3.1,2.5, -2.75,2.3, -2.45,2.5, -2.05,2.4, -1.75,2.2, -1.45,2.65, -1.1,2.35, -0.8,2.5, -0.45,2.5, -0.1,2.45, 0.25,2.35, 0.6,2.2, 1.0,2.35, 1.35,2.25, 1.75,2.15, 2.15,2.45, 2.55,2.4, 3.0,2.4, 3.5,2.5, 4.0,2.6, 4.55,2.7,
-5.0,3.2, -4.55,3.0, -4.2,3.1, -3.75,3.4, -3.35,3.3, -2.95,3.2, -2.65,3.2, -2.3,3.5, -1.95,3.1, -1.65,3.4, -1.3,3.4, -0.95,3.3, -0.6,3.4, -0.2,3.1, 0.15,3.2, 0.5,3.0, 0.9,2.9, 1.3,3.5, 1.7,3.3, 2.1,3.1, 2.6,3.1, 3.1,3.0, 3.6,3.3, 4.1,3.2,
-4.7,4.4, -4.25,4.0, -3.85,4.3, -3.35,4.5, -2.9,4.6, -2.55,4.0, -2.1,4.1, -1.75,4.5, -1.35,4.4, -1.0,4.2, -0.65,4.3, -0.2,4.0, 0.2,4.5, 0.65,4.1, 1.05,4.6, 1.5,4.4, 2.0,4.3, 2.65,4.8, 3.1,4.4
];

// ---------- fitted lines: [tolerance, score] at the panel edges ----------
const fitA = [[-9.08, 0.70], [11.1, 3.52]];
const upperA = [[-9.08, 1.23], [11.1, 9.25]];
const lowerA = [[-9.08, 0.368], [11.1, 1.32]];
const fitB = [[-9.08, 0.597], [11.1, 1.06]];
const upperB = [[-9.08, 2.61], [11.1, 5.97]];
const lowerB = [[-9.08, 0.144], [11.1, 0.18]];

// ---------- violin outlines: [score, half width in category units] ----------
const violinA_UrbanAbsent = [[16.1,0.035],[13.3,0.047],[7.4,0.089],[4.19,0.141],[3.12,0.21],[2.37,0.27],[1.77,0.33],[1.49,0.355],[1.0,0.39],[0.746,0.435],[0.556,0.47],[0.445,0.48],[0.332,0.443],[0.235,0.338],[0.166,0.233],[0.126,0.132]];
const violinA_WildIncrease = [[20.1,0.032],[13.3,0.062],[9.9,0.103],[7.4,0.165],[5.61,0.233],[4.19,0.306],[3.12,0.368],[2.37,0.42],[1.77,0.458],[1.41,0.465],[1.05,0.443],[0.842,0.413],[0.661,0.39],[0.528,0.36],[0.422,0.296],[0.299,0.165],[0.212,0.139],[0.15,0.079],[0.106,0.029],[0.083,0.011]];
const violinA_UrbanIncrease = [[74.6,0.011],[49.3,0.021],[37.4,0.054],[27.9,0.113],[20.8,0.158],[15.8,0.165],[11.8,0.18],[8.79,0.225],[6.67,0.3],[5.61,0.33],[4.19,0.395],[3.12,0.461],[2.21,0.503],[1.77,0.48],[1.32,0.402],[1.0,0.3],[0.746,0.203],[0.556,0.158],[0.422,0.128],[0.315,0.075],[0.235,0.045],[0.155,0.035]];
const violinA_WildAbsent = [[48.5,0.023],[37.4,0.045],[27.9,0.075],[20.8,0.117],[15.8,0.132],[11.8,0.15],[8.79,0.218],[6.67,0.3],[5.61,0.349],[4.19,0.395],[2.81,0.42],[2.1,0.413],[1.77,0.386],[1.32,0.33],[1.0,0.285],[0.746,0.248],[0.556,0.21],[0.422,0.195],[0.315,0.16],[0.235,0.119],[0.178,0.079],[0.133,0.035],[0.103,0.026]];
const violinB_UrbanAbsent = [[41.3,0.019],[28.1,0.021],[15.0,0.026],[9.82,0.04],[7.18,0.053],[5.35,0.105],[4.13,0.171],[3.25,0.233],[2.38,0.261],[1.77,0.273],[1.29,0.285],[1.02,0.287],[0.745,0.263],[0.545,0.24],[0.405,0.228],[0.297,0.228],[0.217,0.225],[0.161,0.185],[0.118,0.105],[0.096,0.079]];
const violinB_WildIncrease = [[13.9,0.019],[9.82,0.026],[7.18,0.05],[5.35,0.103],[4.13,0.191],[3.25,0.263],[2.38,0.306],[1.77,0.315],[1.29,0.323],[1.02,0.303],[0.745,0.261],[0.545,0.244],[0.405,0.236],[0.281,0.203],[0.194,0.15],[0.134,0.086],[0.093,0.04],[0.0545,0.011]];
const violinB_UrbanIncrease = [[56.5,0.019],[37.7,0.017],[20.5,0.023],[15.0,0.033],[11.2,0.073],[8.17,0.138],[5.97,0.225],[4.45,0.338],[3.25,0.455],[2.7,0.503],[2.13,0.465],[1.56,0.345],[1.14,0.236],[0.847,0.15],[0.62,0.108],[0.453,0.077],[0.337,0.066],[0.247,0.056],[0.15,0.035],[0.098,0.023],[0.0643,0.009]];
const violinB_WildAbsent = [[78.7,0.011],[51.5,0.02],[37.7,0.035],[26.1,0.024],[16.1,0.03],[11.2,0.073],[8.17,0.135],[5.97,0.203],[4.45,0.274],[3.25,0.33],[2.38,0.35],[1.77,0.349],[1.42,0.33],[1.14,0.281],[0.847,0.21],[0.62,0.15],[0.453,0.128],[0.313,0.115],[0.217,0.103],[0.15,0.073],[0.104,0.035],[0.0773,0.015]];

// ---------- box stats: [lower whisker, Q1, median, Q3, upper whisker] ----------
const boxA = [[0.126,0.361,0.66,1.54,12.0],[0.083,0.556,1.34,2.54,20.1],[0.21,1.46,2.54,5.33,34.3],[0.103,0.871,2.21,4.56,48.5]];
const boxB = [[0.096,0.313,0.879,1.87,10.8],[0.0545,0.398,1.06,2.17,13.9],[0.225,1.16,2.33,3.5,12.7],[0.11,0.83,1.77,3.31,26.5]];
// outliers: [category number, score]
const outliersA = [[1,16.1],[3,74.6],[3,0.2],[3,0.163]];
const outliersB = [[1,41.3],[1,37.7],[3,56.5],[3,37.7],[3,19.4],[3,0.213],[3,0.194],[3,0.164],[3,0.137],[3,0.125],[3,0.112],[3,0.062],[4,78.7],[4,54.5],[4,37.7],[4,34.4],[4,0.077]];

// ---------- build ----------
const L = v => Math.log10(v);
const pairs = flat => { const out = []; for (let i = 0; i < flat.length; i += 2) out.push([flat[i], L(flat[i + 1])]); return out; };
const lineData = arr => arr.map(p => [p[0], L(p[1])]);
const yTickLog = yTickValues.map(L);
const yMinorLog = yMinorValues.map(L);
const yLabel = v => { const i = yTickLog.findIndex(t => Math.abs(t - v) < 1e-6); return i >= 0 ? yTickLabels[i] : ''; };

const FONT = '"Liberation Sans", Arial, sans-serif';
const majorGrid = { color: '#EBEBEB', width: 1.3 };
const minorGrid = { color: '#F0F0F0', width: 0.9 };
const tickStyle = { color: '#333333', width: 1.1 };
const borderStyle = { color: '#333333', width: 1.3 };

const panels = {
  sa: { left: 103, top: 54, width: 559, height: 432, ymin: -1.221, ymax: 2.015, border: true },
  sb: { left: 103, top: 612, width: 559, height: 430, ymin: -1.424, ymax: 2.016, border: true },
  va: { left: 776, top: 54, width: 551, height: 432, ymin: -1.221, ymax: 2.015, border: false },
  vb: { left: 776, top: 612, width: 551, height: 430, ymin: -1.424, ymax: 2.016, border: false }
};
// violin panels continue past the right edge of the picture (0.6 category expansion on each side)
const violinXMin = 0.4, violinXMax = 0.4 + 551 / 133.33;
const gridKeys = ['sa', 'sb', 'va', 'vb'];
const grids = gridKeys.map(k => ({ left: panels[k].left, top: panels[k].top, width: panels[k].width, height: panels[k].height,
  show: panels[k].border, borderColor: '#333333', borderWidth: 1.3, backgroundColor: 'transparent', containLabel: false }));

const xAxes = [];
const yAxes = [];
const labelStyle = { fontSize: 20, color: '#1a1a1a', fontFamily: FONT };
// scatter x axes (grid 0,1): main + minor
[0, 1].forEach(g => {
  xAxes.push({ type: 'value', gridIndex: g, position: 'bottom', min: -9.08, max: 11.1, axisLine: { show: false },
    axisTick: { show: true, customValues: xTickValues, length: 5, lineStyle: tickStyle },
    axisLabel: Object.assign({ customValues: xTickValues, margin: 11 }, labelStyle),
    splitLine: { show: true, lineStyle: majorGrid } });
  xAxes.push({ type: 'value', gridIndex: g, position: 'bottom', min: -9.08, max: 11.1, axisLine: { show: false },
    axisTick: { show: false, customValues: xMinorValues }, axisLabel: { show: false }, name: '',
    splitLine: { show: true, lineStyle: minorGrid } });
});
// violin x axes (grid 2,3): bottom axis with categories + top border line
[2, 3].forEach(g => {
  xAxes.push({ type: 'value', gridIndex: g, position: 'bottom', min: violinXMin, max: violinXMax,
    axisLine: { show: true, onZero: false, lineStyle: borderStyle },
    axisTick: { show: true, customValues: [1, 2, 3, 4], length: 5, lineStyle: tickStyle },
    axisLabel: { customValues: [1, 2, 3, 4], margin: 11, formatter: v => categories[Math.round(v) - 1], fontSize: 19.5, color: '#1a1a1a', fontFamily: FONT },
    splitLine: { show: true, lineStyle: majorGrid } });
  xAxes.push({ type: 'value', gridIndex: g, position: 'top', min: violinXMin, max: violinXMax,
    axisLine: { show: true, onZero: false, lineStyle: borderStyle },
    axisTick: { show: false }, axisLabel: { show: false }, splitLine: { show: false }, name: '' });
});
// y axes, each grid: main + minor
gridKeys.forEach((k, g) => {
  const p = panels[k];
  yAxes.push({ type: 'value', gridIndex: g, position: 'left', min: p.ymin, max: p.ymax,
    axisLine: { show: !p.border, onZero: false, lineStyle: borderStyle },
    axisTick: { show: true, customValues: yTickLog, length: 5, lineStyle: tickStyle },
    axisLabel: Object.assign({ customValues: yTickLog, formatter: yLabel, margin: 12 }, labelStyle),
    splitLine: { show: true, lineStyle: majorGrid } });
  yAxes.push({ type: 'value', gridIndex: g, position: 'left', min: p.ymin, max: p.ymax, axisLine: { show: false },
    axisTick: { show: false, customValues: yMinorLog }, axisLabel: { show: false }, name: '',
    splitLine: { show: true, lineStyle: minorGrid } });
});

function scatterSeries(data, xi, yi) {
  return { type: 'scatter', xAxisIndex: xi, yAxisIndex: yi, data: pairs(data), symbol: 'circle', symbolSize: 9,
    itemStyle: { color: '#377EB8', opacity: 1 }, z: 2, silent: true, large: false };
}
function lineSeries(data, xi, yi, color, dashed) {
  return { type: 'line', xAxisIndex: xi, yAxisIndex: yi, data: lineData(data), symbol: 'none', z: 5, silent: true,
    lineStyle: { color, width: dashed ? 3.2 : 2.8, type: dashed ? [13, 9] : 'solid' } };
}
function violinSeries(outlines, boxes, xi, yi) {
  return {
    type: 'custom', xAxisIndex: xi, yAxisIndex: yi, z: 3, silent: true,
    data: outlines.map((o, i) => [i + 1, L(boxes[i][2])]),
    encode: { x: 0, y: 1 },
    renderItem: (params, api) => {
      const i = params.dataIndex;
      const cx = i + 1;
      const o = outlines[i];
      const pts = [];
      o.forEach(([v, w]) => pts.push(api.coord([cx + w, L(v)])));
      for (let k = o.length - 1; k >= 0; k--) pts.push(api.coord([cx - o[k][1], L(o[k][0])]));
      const b = boxes[i];
      const P = (x, v) => api.coord([x, L(v)]);
      const bw = 0.053;
      const tl = P(cx - bw, b[3]), br = P(cx + bw, b[1]);
      const c = P(cx, b[2]);
      const boxColor = '#BDBDBD';
      return { type: 'group', children: [
        { type: 'polygon', shape: { points: pts, smooth: 0.25 }, style: { fill: groupColors[i], stroke: '#333333', lineWidth: 1.5 } },
        { type: 'line', shape: { x1: c[0], y1: P(cx, b[3])[1], x2: c[0], y2: P(cx, b[4])[1] }, style: { stroke: boxColor, lineWidth: 1.6 } },
        { type: 'line', shape: { x1: c[0], y1: P(cx, b[1])[1], x2: c[0], y2: P(cx, b[0])[1] }, style: { stroke: boxColor, lineWidth: 1.6 } },
        { type: 'rect', shape: { x: tl[0], y: tl[1], width: br[0] - tl[0], height: br[1] - tl[1] }, style: { fill: 'none', stroke: boxColor, lineWidth: 1.6 } },
        { type: 'line', shape: { x1: tl[0], y1: c[1], x2: br[0], y2: c[1] }, style: { stroke: boxColor, lineWidth: 3.2 } }
      ] };
    }
  };
}
function outlierSeries(data, xi, yi) {
  return { type: 'scatter', xAxisIndex: xi, yAxisIndex: yi, data: data.map(d => [d[0], L(d[1])]), symbolSize: 7, z: 4, silent: true,
    itemStyle: { color: 'rgba(200,200,200,0.45)' } };
}

const textEl = (text, x, y, size, align, rot) => ({ type: 'text', x, y, rotation: rot || 0, silent: true,
  style: { text, font: size + 'px ' + FONT, fill: '#000', textAlign: align, textVerticalAlign: 'middle' } });

const option = {
  animation: false,
  backgroundColor: '#ffffff',
  grid: grids,
  xAxis: xAxes,
  yAxis: yAxes,
  series: [
    scatterSeries(scatterA.concat(scatterA_core), 0, 0),
    lineSeries(fitA, 0, 0, '#E41A1C', false),
    lineSeries(upperA, 0, 0, '#1a1a1a', true),
    lineSeries(lowerA, 0, 0, '#1a1a1a', true),
    scatterSeries(scatterB.concat(scatterB_core), 2, 2),
    lineSeries(fitB, 2, 2, '#E41A1C', false),
    lineSeries(upperB, 2, 2, '#1a1a1a', true),
    lineSeries(lowerB, 2, 2, '#1a1a1a', true),
    violinSeries([violinA_UrbanAbsent, violinA_WildIncrease, violinA_UrbanIncrease, violinA_WildAbsent], boxA, 4, 4),
    outlierSeries(outliersA, 4, 4),
    violinSeries([violinB_UrbanAbsent, violinB_WildIncrease, violinB_UrbanIncrease, violinB_WildAbsent], boxB, 6, 6),
    outlierSeries(outliersB, 6, 6)
  ],
  graphic: [
    textEl(titleA, 103, 25, 29, 'left'),
    textEl(titleB, 103, 581, 29, 'left'),
    textEl(xTitle, 382.5, 532, 24.5, 'center'),
    textEl(xTitle, 382.5, 1087, 24.5, 'center'),
    textEl(yTitle, 25, 270, 24.5, 'center', Math.PI / 2),
    textEl(yTitle, 25, 827, 24.5, 'center', Math.PI / 2)
  ]
};

const chart = echarts.init(document.getElementById('c'), null, { renderer: 'canvas' });
chart.setOption(option);
</script>
</body></html>
